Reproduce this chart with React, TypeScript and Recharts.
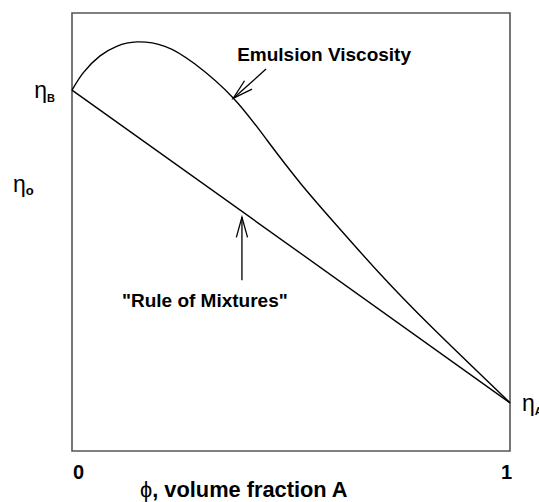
import React from 'react';
import {
  LineChart, Line, XAxis, YAxis, ReferenceArea, ReferenceLine, ReferenceDot, Label
} from 'recharts';

// volume fraction of A and the two viscosity curves (0..1 scaled)
const PHI = [0, 0.026, 0.064, 0.102, 0.148, 0.212, 0.28, 0.368, 0.445, 0.521, 0.6, 0.7, 0.82, 1];
const EMULSION = [0.824, 0.864, 0.902, 0.924, 0.934, 0.924, 0.884, 0.806, 0.71, 0.612, 0.52, 0.408, 0.284, 0.11];
const RULE_PHI = [0, 1];
const RULE = [0.824, 0.11];
const X_TICKS = [0, 1];
const X_TICK_LABELS = ['0', '1'];

const ANNOTATIONS = [
  { text: 'Emulsion Viscosity', tail: { x: 0.443, y: 0.872 }, tip: { x: 0.368, y: 0.805 }, at: { x: 0.377, y: 0.89 } },
  { text: '"Rule of Mixtures"', tail: { x: 0.388, y: 0.39 }, tip: { x: 0.388, y: 0.534 }, at: { x: 0.114, y: 0.329 } },
];

const FONT = '"Liberation Sans", Arial, Helvetica, sans-serif';

const emulsionData = PHI.map((p, i) => ({ phi: p, eta: EMULSION[i] }));
const ruleData = RULE_PHI.map((p, i) => ({ phi: p, eta: RULE[i] }));

const XTick = ({ x, y, payload }: any) => {
  const first = payload.value === X_TICKS[0];
  const label = X_TICK_LABELS[X_TICKS.indexOf(payload.value)];
  return (
    <text x={first ? x + 1 : x + 2} y={y + 28} textAnchor={first ? 'start' : 'end'}
      fontFamily={FONT} fontWeight="bold" fontSize={20} fill="#000">
      {label}
    </text>
  );
};

const etaTick = (sub: string, side: 'left' | 'right') => ({ x, y }: any) => (
  <text x={side === 'left' ? x - 17 : x + 12} y={y + 8} textAnchor={side === 'left' ? 'end' : 'start'}
    fontFamily={FONT} fill="#000">
    <tspan fontSize={23}>η</tspan>
    <tspan fontSize={11} fontWeight="bold" dy={4}>{sub}</tspan>
  </text>
);

const arrowShape = (props: any) => {
  const { x1, y1, x2, y2 } = props;
  const ang = Math.atan2(y1 - y2, x1 - x2);
  const len = 21;
  const spread = 0.27;
  const b1 = `${x2 + len * Math.cos(ang + spread)},${y2 + len * Math.sin(ang + spread)}`;
  const b2 = `${x2 + len * Math.cos(ang - spread)},${y2 + len * Math.sin(ang - spread)}`;
  return (
    <g>
      <line x1={x1} y1={y1} x2={x2} y2={y2} stroke="#000" strokeWidth={1.3} />
      <polyline points={`${b1} ${x2},${y2} ${b2}`} fill="none" stroke="#000" strokeWidth={1.3} />
    </g>
  );
};

export default function App() {
  return (
    <div style={{ position: 'absolute', left: 0, top: 0, background: '#fff' }}>
      <LineChart width={539} height={502} margin={{ top: 13, right: 0, bottom: 0, left: 12 }}>
        <XAxis dataKey="phi" type="number" domain={[0, 1]} ticks={X_TICKS} height={51}
          axisLine={false} tickLine={false} tickSize={0} tickMargin={0} tick={<XTick />} interval={0}>
          <Label content={({ viewBox }: any) => (
            <text x={viewBox.x + 68} y={viewBox.y + 46} fontFamily={FONT} fontSize={21.8} fill="#000">
              <tspan fontWeight="normal">ϕ</tspan>
              <tspan fontWeight="bold">, volume fraction A</tspan>
            </text>
          )} />
        </XAxis>
        <YAxis yAxisId="left" type="number" domain={[0, 1]} ticks={[RULE[0]]} width={60}
          axisLine={false} tickLine={false} tickSize={0} tickMargin={0} tick={etaTick('B', 'left')} interval={0}>
          <Label content={({ viewBox }: any) => (
            <text x={viewBox.x + 1} y={viewBox.y + 179} fontFamily={FONT} fill="#000">
              <tspan fontSize={23}>η</tspan>
              <tspan fontSize={13} fontWeight="bold" dy={3}>o</tspan>
            </text>
          )} />
        </YAxis>
        <YAxis yAxisId="right" orientation="right" type="number" domain={[0, 1]} ticks={[RULE[1]]} width={29}
          axisLine={false} tickLine={false} tickSize={0} tickMargin={0} tick={etaTick('A', 'right')} interval={0} />

        <ReferenceArea yAxisId="left" x1={0} x2={1} y1={0} y2={1} fill="none" fillOpacity={0}
          stroke="#555" strokeWidth={1.6} />

        <Line yAxisId="right" data={ruleData} dataKey="eta" type="linear" stroke="#000" strokeWidth={1.4}
          dot={false} isAnimationActive={false} />
        <Line yAxisId="left" data={emulsionData} dataKey="eta" type="natural" stroke="#000" strokeWidth={1.4}
          dot={false} isAnimationActive={false} />

        {ANNOTATIONS.map(a => (
          <ReferenceLine key={a.text} yAxisId="left" segment={[a.tail, a.tip]} shape={arrowShape} ifOverflow="visible" />
        ))}
        {ANNOTATIONS.map(a => (
          <ReferenceDot key={'t' + a.text} yAxisId="left" x={a.at.x} y={a.at.y} r={0} fill="none" stroke="none"
            label={(p: any) => (
              <text x={p.viewBox.x} y={p.viewBox.y} fontFamily={FONT} fontWeight="bold" fontSize={19} fill="#000">
                {a.text}
              </text>
            )} />
        ))}
      </LineChart>
    </div>
  );
}
